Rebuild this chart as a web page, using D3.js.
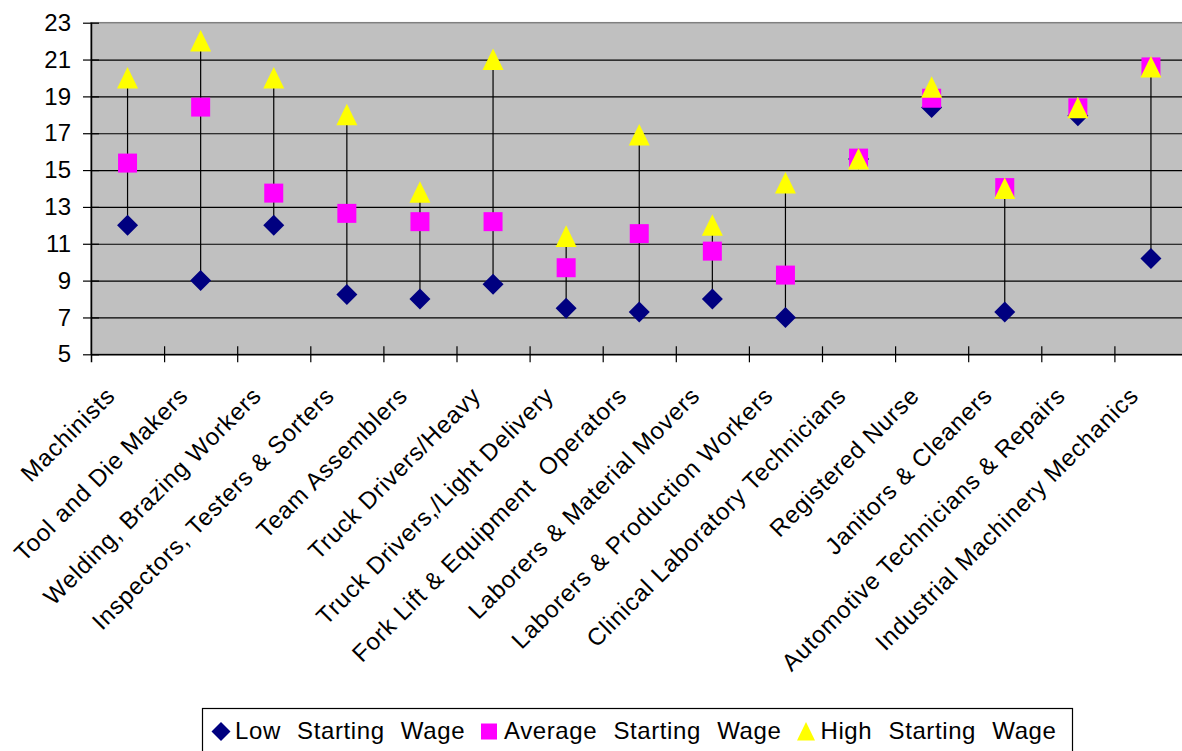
<!DOCTYPE html>
<html>
<head>
<meta charset="utf-8">
<script src="https://cdn.jsdelivr.net/npm/d3@7"></script>
<style>
  html, body { margin: 0; padding: 0; background: #ffffff; }
  svg { display: block; font-family: "Liberation Sans", Arial, sans-serif; }
</style>
</head>
<body>
<svg id="chart" width="1182" height="751"></svg>
<script>
// Starting wages by occupation (dollars per hour)
const categories = [
  "Machinists",
  "Tool and Die Makers",
  "Welding, Brazing Workers",
  "Inspectors, Testers & Sorters",
  "Team Assemblers",
  "Truck Drivers/Heavy",
  "Truck Drivers,/Light Delivery",
  "Fork Lift & Equipment  Operators",
  "Laborers & Material Movers",
  "Laborers & Production Workers",
  "Clinical Laboratory Technicians",
  "Registered Nurse",
  "Janitors & Cleaners",
  "Automotive Technicians & Repairs",
  "Industrial Machinery Mechanics"
];
const lowWage  = [12.0, 9.0, 12.0, 8.25, 8.0, 8.8, 7.5, 7.3, 8.0, 7.0, 15.6, 18.4, 7.3, 17.95, 10.2];
const avgWage  = [15.38, 18.42, 13.75, 12.65, 12.2, 12.2, 9.7, 11.55, 10.6, 9.3, 15.65, 18.9, 14.05, 18.38, 20.6];
const highWage = [20.0, 22.0, 20.0, 18.0, 13.8, 21.0, 11.4, 16.9, 12.0, 14.3, 15.6, 19.5, 14.0, 18.38, 20.6];
const yTicks = [5, 7, 9, 11, 13, 15, 17, 19, 21, 23];
const seriesNames = ["Low Starting Wage", "Average Starting Wage", "High Starting Wage"];

const svg = d3.select("#chart");
const plot = { left: 91, top: 22.7, bottom: 354.3, band: 73.1 };
plot.right = plot.left + plot.band * categories.length;
const W = plot.right - plot.left;

const x = d3.scaleBand().domain(d3.range(categories.length)).range([plot.left, plot.right]).padding(0);
const xEdge = d3.scaleLinear().domain([0, categories.length]).range([plot.left, plot.right]);
const y = d3.scaleLinear().domain([5, 23]).range([plot.bottom, plot.top]);
const cx = i => x(i) + x.bandwidth() / 2;

// plot area
svg.append("rect")
  .attr("x", plot.left).attr("y", plot.top)
  .attr("width", W).attr("height", plot.bottom - plot.top)
  .attr("fill", "#C0C0C0").attr("stroke", "#808080").attr("stroke-width", 1.5);

// horizontal gridlines
svg.append("g")
  .attr("transform", `translate(${plot.left},0)`)
  .call(d3.axisLeft(y).tickValues(yTicks.filter(v => v > 5 && v < 23)).tickSize(-W).tickFormat(""))
  .call(g => g.select(".domain").remove())
  .call(g => g.selectAll("line").attr("stroke", "#000").attr("stroke-width", 1.2));

// y axis
svg.append("g")
  .attr("transform", `translate(${plot.left},0)`)
  .call(d3.axisLeft(y).tickValues(yTicks).tickSize(8).tickPadding(12).tickSizeOuter(0))
  .call(g => g.select(".domain").attr("stroke", "#000").attr("stroke-width", 1.5)
        .attr("d", `M0.5,${plot.top}V${plot.bottom + 8}`))
  .call(g => g.selectAll(".tick line").attr("x1", 8).attr("stroke", "#000").attr("stroke-width", 1.2))
  .call(g => g.selectAll(".tick text").attr("font-size", 24).attr("fill", "#000")
        .attr("font-family", "Liberation Sans, Arial, sans-serif"));

// x axis with ticks at category boundaries
svg.append("g")
  .attr("transform", `translate(0,${plot.bottom})`)
  .call(d3.axisBottom(xEdge).tickValues(d3.range(1, categories.length)).tickSize(8).tickFormat("").tickSizeOuter(0))
  .call(g => g.select(".domain").attr("stroke", "#000").attr("stroke-width", 1.5)
        .attr("d", `M${plot.left},0.5H${plot.right}`))
  .call(g => g.selectAll(".tick line").attr("y1", -8).attr("stroke", "#000").attr("stroke-width", 1.2));

// rotated category labels
svg.append("g").selectAll("text")
  .data(categories)
  .join("text")
  .attr("transform", (d, i) => `translate(${cx(i) - 11},${plot.bottom + 43}) rotate(-45)`)
  .attr("text-anchor", "end")
  .attr("font-size", 24)
  .attr("letter-spacing", "0.8px")
  .attr("fill", "#000")
  .style("white-space", "pre")
  .text(d => d);

// high-low lines
svg.append("g").selectAll("line")
  .data(categories.map((c, i) => i))
  .join("line")
  .attr("x1", i => cx(i)).attr("x2", i => cx(i))
  .attr("y1", i => y(lowWage[i])).attr("y2", i => y(highWage[i]))
  .attr("stroke", "#000").attr("stroke-width", 1.2);

// marker shapes
const diamond = s => `M0,${-s}L${s},0L0,${s}L${-s},0Z`;
const square = s => `M${-s},${-s}H${s}V${s}H${-s}Z`;
const triangle = s => `M0,${-s * 1.05}L${s},${s * 1.0}H${-s}Z`;

const series = [
  { values: lowWage, color: "#000080", path: diamond(10.5) },
  { values: avgWage, color: "#FF00FF", path: square(9.5) },
  { values: highWage, color: "#FFFF00", path: triangle(10.5) }
];

series.forEach(s => {
  svg.append("g").selectAll("path")
    .data(s.values)
    .join("path")
    .attr("transform", (v, i) => `translate(${cx(i)},${y(v)})`)
    .attr("d", s.path)
    .attr("fill", s.color);
});

// legend
const legend = svg.append("g");
legend.append("rect")
  .attr("x", 202.5).attr("y", 708.5).attr("width", 870).attr("height", 60)
  .attr("fill", "#fff").attr("stroke", "#000").attr("stroke-width", 1.2);

const legendItems = [
  { mark: 221, text: 235, path: diamond(9.5), color: "#000080" },
  { mark: 489, text: 504, path: square(8), color: "#FF00FF" },
  { mark: 806, text: 820.5, path: triangle(9), color: "#FFFF00" }
];
legendItems.forEach((it, k) => {
  legend.append("path")
    .attr("transform", `translate(${it.mark},731.5)`)
    .attr("d", it.path).attr("fill", it.color);
  legend.append("text")
    .attr("x", it.text).attr("y", 738.5)
    .attr("font-size", 24).attr("fill", "#000")
    .attr("letter-spacing", "0.6px")
    .attr("word-spacing", "9px")
    .text(seriesNames[k]);
});
</script>
</body>
</html>
